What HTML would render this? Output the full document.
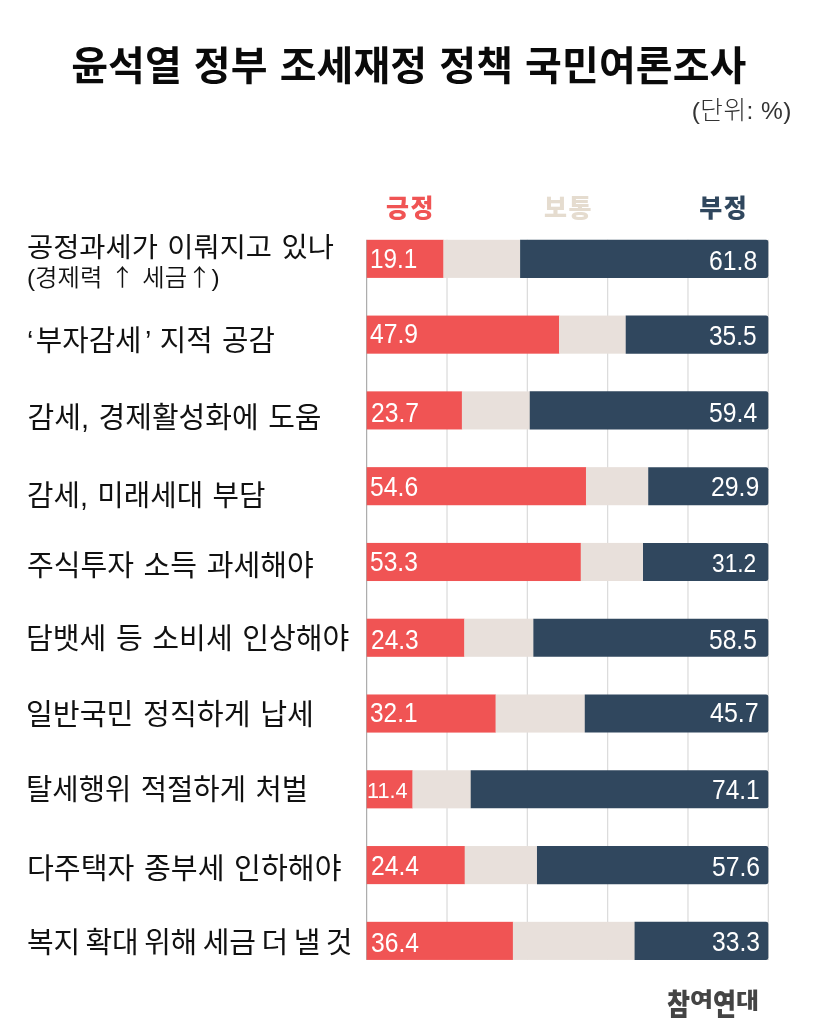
<!DOCTYPE html>
<html lang="ko"><head><meta charset="utf-8"><title>윤석열 정부 조세재정 정책 국민여론조사</title>
<style>
html,body{margin:0;padding:0;background:#fff;}
body{width:819px;height:1024px;position:relative;overflow:hidden;font-family:"Liberation Sans","Noto Sans CJK KR",sans-serif;color:#111;}
.abs{position:absolute;white-space:nowrap;}
.title{left:-0.7px;width:819px;top:36px;text-align:center;font-size:40px;font-weight:700;line-height:60px;color:#0a0a0a;letter-spacing:0.1px;word-spacing:0.8px;}
.unit{right:27px;top:93.4px;font-size:24.5px;font-weight:300;line-height:36px;color:#333;letter-spacing:0.5px;}
.leg{font-size:25px;font-weight:900;line-height:36px;top:190px;letter-spacing:1.6px;}
.lab{font-size:29px;font-weight:400;line-height:40px;color:#111;word-spacing:1.5px;transform-origin:0 0;}
.sub{font-size:24px;font-weight:350;line-height:30px;color:#111;word-spacing:1px;transform-origin:0 0;}
.ar{font-family:"Noto Sans CJK KR",sans-serif;}
.val{font-size:28px;font-weight:400;line-height:30px;color:#fff;transform-origin:0 0;}
.logo{font-size:25px;font-weight:900;color:#444;line-height:36px;}
.logo span{display:inline-block;transform-origin:50% 22%;}
</style></head><body>

<div class="abs title">윤석열 정부 조세재정 정책 국민여론조사</div>
<div class="abs unit">(단위: %)</div>
<div class="abs leg" style="left:386px;color:#f05454">긍정</div>
<div class="abs leg" style="left:544px;color:#e5dccf">보통</div>
<div class="abs leg" style="left:699.2px;color:#30475e">부정</div>
<svg class="abs" style="left:0;top:0" width="819" height="1024" viewBox="0 0 819 1024"><line x1="366.70" y1="239.80" x2="366.70" y2="959.92" stroke="#9a9a9a" stroke-width="1"/><line x1="447.02" y1="239.80" x2="447.02" y2="959.92" stroke="#dadada" stroke-width="1.2"/><line x1="527.34" y1="239.80" x2="527.34" y2="959.92" stroke="#dadada" stroke-width="1.2"/><line x1="607.66" y1="239.80" x2="607.66" y2="959.92" stroke="#dadada" stroke-width="1.2"/><line x1="687.98" y1="239.80" x2="687.98" y2="959.92" stroke="#dadada" stroke-width="1.2"/><line x1="768.30" y1="239.80" x2="768.30" y2="959.92" stroke="#dadada" stroke-width="1.2"/><rect x="366.70" y="239.80" width="77.01" height="38.10" fill="#f05454"/><rect x="443.41" y="239.80" width="77.01" height="38.10" fill="#e8e0db"/><path d="M520.11 239.80H766.10Q768.30 239.80 768.30 242.00V275.70Q768.30 277.90 766.10 277.90H520.11Z" fill="#30475e"/><rect x="366.70" y="315.58" width="192.67" height="38.10" fill="#f05454"/><rect x="559.07" y="315.58" width="66.97" height="38.10" fill="#e8e0db"/><path d="M625.73 315.58H766.10Q768.30 315.58 768.30 317.78V351.48Q768.30 353.68 766.10 353.68H625.73Z" fill="#30475e"/><rect x="366.70" y="391.36" width="95.48" height="38.10" fill="#f05454"/><rect x="461.88" y="391.36" width="68.17" height="38.10" fill="#e8e0db"/><path d="M529.75 391.36H766.10Q768.30 391.36 768.30 393.56V427.26Q768.30 429.46 766.10 429.46H529.75Z" fill="#30475e"/><rect x="366.70" y="467.14" width="219.57" height="38.10" fill="#f05454"/><rect x="585.97" y="467.14" width="62.55" height="38.10" fill="#e8e0db"/><path d="M648.22 467.14H766.10Q768.30 467.14 768.30 469.34V503.04Q768.30 505.24 766.10 505.24H648.22Z" fill="#30475e"/><rect x="366.70" y="542.92" width="214.35" height="38.10" fill="#f05454"/><rect x="580.75" y="542.92" width="62.55" height="38.10" fill="#e8e0db"/><path d="M643.00 542.92H766.10Q768.30 542.92 768.30 545.12V578.82Q768.30 581.02 766.10 581.02H643.00Z" fill="#30475e"/><rect x="366.70" y="618.70" width="97.89" height="38.10" fill="#f05454"/><rect x="464.29" y="618.70" width="69.38" height="38.10" fill="#e8e0db"/><path d="M533.36 618.70H766.10Q768.30 618.70 768.30 620.90V654.60Q768.30 656.80 766.10 656.80H533.36Z" fill="#30475e"/><rect x="366.70" y="694.48" width="129.21" height="38.10" fill="#f05454"/><rect x="495.61" y="694.48" width="89.46" height="38.10" fill="#e8e0db"/><path d="M584.77 694.48H766.10Q768.30 694.48 768.30 696.68V730.38Q768.30 732.58 766.10 732.58H584.77Z" fill="#30475e"/><rect x="366.70" y="770.26" width="46.08" height="38.10" fill="#f05454"/><rect x="412.48" y="770.26" width="58.53" height="38.10" fill="#e8e0db"/><path d="M470.71 770.26H766.10Q768.30 770.26 768.30 772.46V806.16Q768.30 808.36 766.10 808.36H470.71Z" fill="#30475e"/><rect x="366.70" y="846.04" width="98.29" height="38.10" fill="#f05454"/><rect x="464.69" y="846.04" width="72.59" height="38.10" fill="#e8e0db"/><path d="M536.98 846.04H766.10Q768.30 846.04 768.30 848.24V881.94Q768.30 884.14 766.10 884.14H536.98Z" fill="#30475e"/><rect x="366.70" y="921.82" width="146.48" height="38.10" fill="#f05454"/><rect x="512.88" y="921.82" width="121.98" height="38.10" fill="#e8e0db"/><path d="M634.57 921.82H766.10Q768.30 921.82 768.30 924.02V957.72Q768.30 959.92 766.10 959.92H634.57Z" fill="#30475e"/></svg>
<div class="abs lab" style="left:27.15px;top:229.30px;transform:scale(0.9815,0.9450);">공정과세가 이뤄지고 있나</div>
<div class="abs sub" style="left:27.15px;top:261.50px;transform:scale(1.0158,0.9750);">(경제력 <span class="ar">↑</span> 세금<span class="ar">↑</span>)</div>
<div class="abs val" style="left:370.25px;top:243.55px;font-size:26.94px;transform:scale(0.9031,1.0000);">19.1</div>
<div class="abs val" style="left:709.30px;top:246.00px;font-size:27.58px;transform:scale(0.8986,1.0000);">61.8</div>
<div class="abs lab" style="left:27.05px;top:320.50px;transform:scale(0.9907,1.0000);"><span style="margin-right:2.4px">‘</span>부자감세<span style="margin-left:3.5px">’</span> 지적 공감</div>
<div class="abs val" style="left:370.45px;top:318.50px;font-size:27.44px;transform:scale(0.9006,1.0000);">47.9</div>
<div class="abs val" style="left:709.30px;top:320.75px;font-size:26.94px;transform:scale(0.9081,1.0000);">35.5</div>
<div class="abs lab" style="left:27.55px;top:398.20px;transform:scale(1.0000,1.0000);">감세, 경제활성화에 도움</div>
<div class="abs val" style="left:370.60px;top:397.65px;font-size:28.07px;transform:scale(0.8801,1.0000);">23.7</div>
<div class="abs val" style="left:709.30px;top:398.00px;font-size:27.44px;transform:scale(0.9023,1.0000);">59.4</div>
<div class="abs lab" style="left:26.50px;top:475.60px;transform:scale(0.9912,1.0000);">감세, 미래세대 부담</div>
<div class="abs val" style="left:369.90px;top:472.35px;font-size:28.07px;transform:scale(0.8813,1.0000);">54.6</div>
<div class="abs val" style="left:711.45px;top:472.10px;font-size:27.58px;transform:scale(0.8991,1.0000);">29.9</div>
<div class="abs lab" style="left:27.00px;top:545.90px;transform:scale(1.0025,1.0000);">주식투자 소득 과세해야</div>
<div class="abs val" style="left:369.90px;top:547.00px;font-size:27.86px;transform:scale(0.8823,1.0000);">53.3</div>
<div class="abs val" style="left:712.00px;top:548.40px;font-size:25.24px;transform:scale(0.9008,1.0000);">31.2</div>
<div class="abs lab" style="left:26.00px;top:619.30px;transform:scale(1.0038,1.0000);">담뱃세 등 소비세 인상해야</div>
<div class="abs val" style="left:370.90px;top:623.65px;font-size:28.29px;transform:scale(0.8664,1.0000);">24.3</div>
<div class="abs val" style="left:709.05px;top:624.60px;font-size:27.86px;transform:scale(0.8828,1.0000);">58.5</div>
<div class="abs lab" style="left:26.40px;top:695.30px;transform:scale(1.0071,1.0000);">일반국민 정직하게 납세</div>
<div class="abs val" style="left:370.15px;top:697.90px;font-size:27.44px;transform:scale(0.8908,1.0000);">32.1</div>
<div class="abs val" style="left:710.15px;top:698.40px;font-size:27.72px;transform:scale(0.9011,1.0000);">45.7</div>
<div class="abs lab" style="left:26.00px;top:770.20px;transform:scale(0.9866,1.0000);">탈세행위 적절하게 처벌</div>
<div class="abs val" style="left:366.50px;top:775.45px;font-size:22.98px;transform:scale(0.9446,1.0000);">11.4</div>
<div class="abs val" style="left:712.20px;top:774.15px;font-size:28.52px;transform:scale(0.8595,1.0000);">74.1</div>
<div class="abs lab" style="left:26.55px;top:848.70px;transform:scale(1.0060,1.0000);">다주택자 종부세 인하해야</div>
<div class="abs val" style="left:371.15px;top:851.30px;font-size:27.93px;transform:scale(0.8847,1.0000);">24.4</div>
<div class="abs val" style="left:712.25px;top:852.20px;font-size:27.58px;transform:scale(0.8959,1.0000);">57.6</div>
<div class="abs lab" style="left:27.00px;top:923.30px;letter-spacing:-0.27px;word-spacing:-2.00px;">복지 확대 위해 세금 더 낼 것</div>
<div class="abs val" style="left:371.45px;top:928.45px;font-size:26.94px;transform:scale(0.9169,1.0000);">36.4</div>
<div class="abs val" style="left:712.45px;top:927.00px;font-size:27.58px;transform:scale(0.8932,1.0000);">33.3</div>
<div class="abs logo" style="left:667px;top:983.8px"><span style="transform:scaleY(1.2)">참</span><span style="transform:scaleY(0.81)">여</span><span style="transform:scaleY(1.2)">연</span><span style="transform:scaleY(0.845)">대</span></div>
</body></html>
